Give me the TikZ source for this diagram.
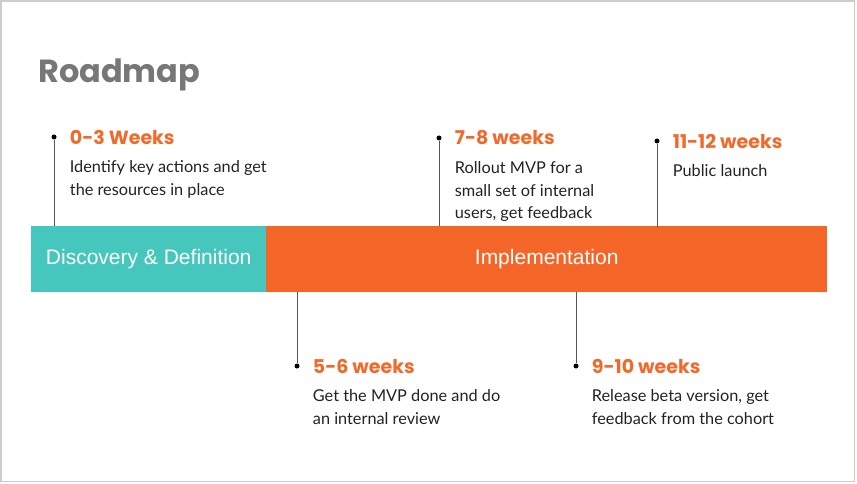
\documentclass[tikz,border=0pt]{standalone}
\usepackage{fontspec}
\setmainfont{Lato}
\newfontfamily\headfont{Poppins}
\newfontfamily\barfont{Liberation Sans}
\usepackage{xcolor}
\definecolor{framegrey}{HTML}{CCCCCC}
\definecolor{titlegrey}{HTML}{777777}
\definecolor{tealbar}{HTML}{45C7BD}
\definecolor{orangebar}{HTML}{F46627}
\definecolor{headorange}{HTML}{F26A2B}
\definecolor{inkdark}{HTML}{222222}
\definecolor{tickgrey}{HTML}{555555}
\usepackage{tikz}
\usetikzlibrary{positioning}

\begin{document}
\begin{tikzpicture}[x=1pt,y=-1pt,node distance=13pt,
  phase/.style={inner sep=0pt,minimum height=66pt,text=white,font=\barfont\fontsize{21}{24}\selectfont},
  mdot/.style={circle,fill=black,inner sep=0pt,minimum size=5pt},
  mhead/.style={inner sep=0pt,anchor=west,text=headorange,font=\headfont\bfseries\fontsize{19}{22}\selectfont},
  mbody/.style={inner sep=0pt,align=left,text=inkdark,font=\fontsize{16.3}{22.5}\selectfont},
  tick/.style={tickgrey,line width=1pt}]
  \useasboundingbox (0,0) rectangle (857,484);
  \draw[framegrey,line width=1.5pt] (1,1) rectangle (854.5,481.5);
  \node[anchor=base west,inner sep=0pt,text=titlegrey,font=\headfont\bfseries\fontsize{32}{38}\selectfont] (title) at (38,83) {Roadmap};
  % the two phases of the bar
  \node[phase,fill=orangebar,minimum width=562pt,anchor=north west] (impl) at (265,226) {\hspace*{1pt}Implementation};
  \node[phase,fill=tealbar,minimum width=235pt,anchor=north west] (disc) at (31,226) {Discovery \& Definition};
  % milestones above the bar
  \node[mdot] (d1) at (54,137) {};
  \node[mhead,right=of d1] (h1) {0-3 Weeks};
  \node[mbody,below right=16pt and 0pt of h1.south west] (b1) {Identify key actions and get\\the resources in place};
  \node[mdot] (d3) at (439,138) {};
  \node[mhead,right=of d3] (h3) {7-8 weeks};
  \node[mbody,below right=16pt and 0pt of h3.south west] (b3) {Rollout MVP for a\\small set of internal\\users, get feedback};
  \node[mdot] (d5) at (657,141) {};
  \node[mhead,right=of d5] (h5) {11-12 weeks};
  \node[mbody,below right=16pt and 0pt of h5.south west] (b5) {Public launch};
  % milestones below the bar
  \node[mdot] (d2) at (297,366) {};
  \node[mhead,right=of d2] (h2) {5-6 weeks};
  \node[mbody,below right=16pt and 0pt of h2.south west] (b2) {Get the MVP done and do\\an internal review};
  \node[mdot] (d4) at (576,366) {};
  \node[mhead,right=of d4] (h4) {9-10 weeks};
  \node[mbody,below right=16pt and 0pt of h4.south west] (b4) {Release beta version, get\\feedback from the cohort};
  \draw[tick] (d1) -- (d1 |- disc.north);
  \draw[tick] (d3) -- (d3 |- impl.north);
  \draw[tick] (d5) -- ([yshift=-1pt]d5 |- impl.north);
  \draw[tick] (d2) -- (d2 |- impl.south);
  \draw[tick] (d4) -- (d4 |- impl.south);
\end{tikzpicture}
\end{document}
